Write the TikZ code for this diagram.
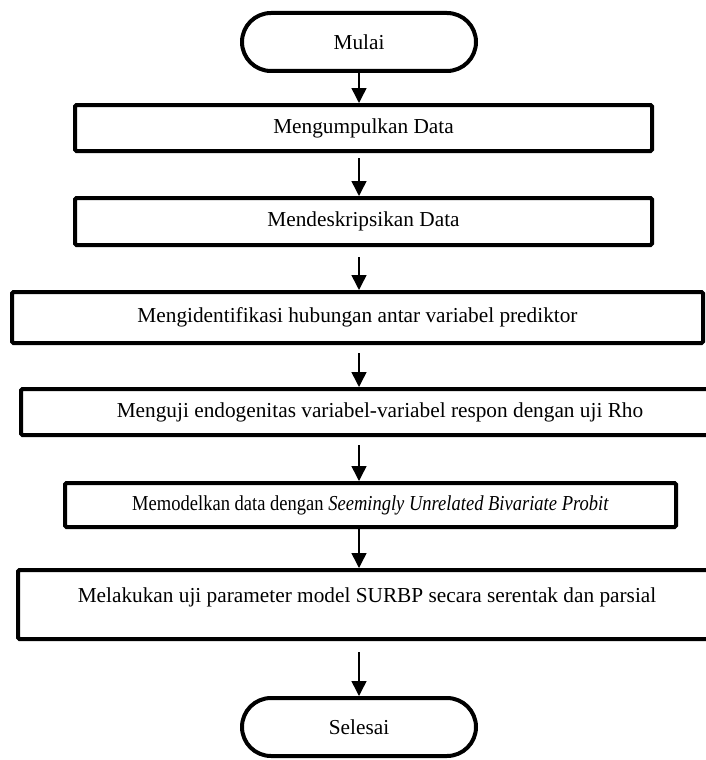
\documentclass[tikz,border=0pt]{standalone}
\usepackage{fontspec}
\setmainfont{Liberation Serif}
\usetikzlibrary{arrows.meta,shapes.misc}

\begin{document}
\begin{tikzpicture}[x=1pt, y=-1pt,
  font=\fontsize{21.3}{25}\selectfont,
  proses/.style={draw, line width=4pt, rounded corners=1.5pt, inner sep=0pt},
  terminal/.style={draw, rounded rectangle, line width=4pt,
    minimum width=234pt, minimum height=58pt, inner sep=0pt},
  panah/.style={-{Triangle[width=15pt,length=15pt]}, line width=1.5pt}]

  \useasboundingbox (0,0) rectangle (706,760);
  \clip (0,0) rectangle (706,760);

  % Draw start and end
  \node [terminal] (mulai) at (359,42) {Mulai};
  \node [terminal] (selesai) at (359,727) {Selesai};

  % Draw steps
  \node [proses, minimum width=577pt, minimum height=46pt]
    (kumpul) at (363.5,128) {Mengumpulkan Data};
  \node [proses, minimum width=577pt, minimum height=47pt]
    (deskripsi) at (363.5,221.5) {Mendeskripsikan Data};
  \node [proses, minimum width=691pt, minimum height=51pt]
    (identifikasi) at (357.5,317.5) {Mengidentifikasi hubungan antar variabel prediktor};
  \node [proses, minimum width=718pt, minimum height=46pt]
    (endogen) at (380,412) {Menguji endogenitas variabel-variabel respon dengan uji Rho};
  \node [proses, minimum width=611pt, minimum height=44pt]
    (model) at (370.5,505) {\scalebox{0.87}[1]{Memodelkan data dengan \textit{Seemingly Unrelated Bivariate Probit}}};
  \node [proses, minimum width=698pt, minimum height=69pt, text depth=18pt]
    (uji) at (367,604.5) {Melakukan uji parameter model SURBP secara serentak dan parsial};

  % Draw arrows
  \foreach \a/\b/\s in {mulai/kumpul/0, kumpul/deskripsi/5, deskripsi/identifikasi/10,
      identifikasi/endogen/8, endogen/model/8, model/uji/0, uji/selesai/11}{%
    \draw [panah, shorten <=\s pt] (\a.south -| mulai) -- (\b.north -| mulai);
  }

\end{tikzpicture}
\end{document}
